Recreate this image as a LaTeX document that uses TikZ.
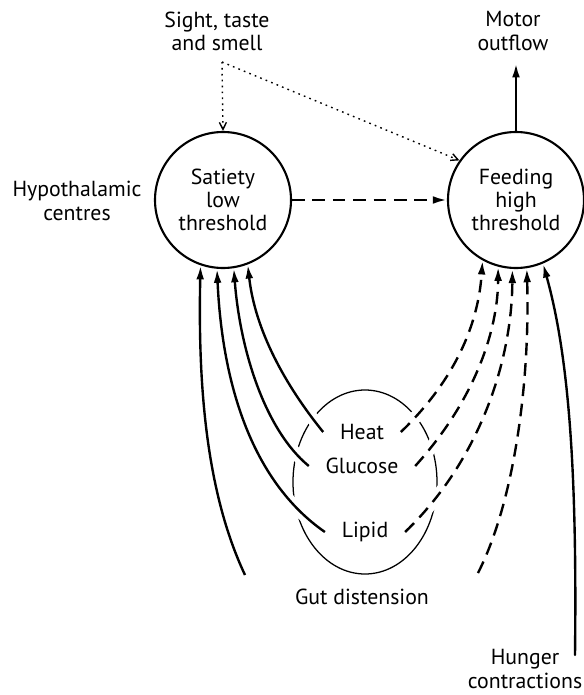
\documentclass[tikz,border=0pt]{standalone}
\usepackage{fontspec}
\setmainfont{PT Sans}
\usetikzlibrary{arrows.meta}

\begin{document}
\begin{tikzpicture}[x=0.25mm, y=-0.25mm,
			>={Latex[length=10pt,width=5.5pt]},   %Pfeilspitzen
			font=\fontsize{15.5}{16.5}\selectfont,
			centre/.style={draw, circle, line width=1.5pt, minimum size=3.4cm, align=center, inner sep=0pt},
			lbl/.style={align=center, inner sep=1pt},
			gutlbl/.style={inner sep=1pt, outer sep=11pt},
			fed/.style={->, line width=1.7pt},
			fedd/.style={->, line width=1.7pt, dash pattern=on 9pt off 5.5pt},
			sense/.style={-{Straight Barb[length=5pt,width=5pt]}, line width=1pt, dash pattern=on 1.2pt off 3pt},
			gap/.style={preaction={draw=white, line width=9pt, solid, -, shorten >=60pt}}]
			\useasboundingbox (0,0) rectangle (584,695);
			% Zentren
			\node[centre] (satiety) at (223,200) {Satiety\\low\\threshold};
			\node[centre] (feeding) at (516,200) {Feeding\\high\\threshold};
			\node[lbl] (hypo) at (77,201) {Hypothalamic\\centres};
			\node[lbl] (sight) at (217,31) {Sight, taste\\and smell};
			\node[lbl] (motor) at (513,31) {Motor\\outflow};
			% Sinne und Motorik
			\coordinate (sightpt) at (222,62);
			\draw[sense] (sightpt) -- (satiety.north);
			\draw[sense] (sightpt) -- (feeding.145);
			\draw[fedd] (satiety.east) -- (feeding.west);
			\draw[fed, shorten >=8pt] (feeding.north) -- (feeding.north |- motor.south);
			% Darm
			\draw[line width=0.9pt] (365,482) ellipse [x radius=72, y radius=92];
			\node[gutlbl] (heat) at (362,432) {Heat};
			\node[gutlbl] (glucose) at (362,466) {Glucose};
			\node[gutlbl] (lipid) at (365,532) {Lipid};
			\node[lbl] (gut) at (362,597) {Gut distension};
			\node[lbl] (hunger) at (525,669) {Hunger\\contractions};
			\coordinate (gutL) at (245,575);
			\coordinate (gutR) at (478,573);
			\coordinate (hungerEnd) at (575,655);
			% Signale zur Sättigung
			\draw[fed] (gutL) .. controls (205,490) and (198,380) .. (satiety.251);
			\draw[fed,gap] (lipid.west) .. controls (250,480) and (222,380) .. (satiety.265);
			\draw[fed,gap] (glucose.west) .. controls (265,430) and (240,350) .. (satiety.279);
			\draw[fed,gap] (heat.west) .. controls (285,385) and (255,330) .. (satiety.291);
			% Signale zum Fressen
			\draw[fedd,gap] (heat.east) .. controls (450,385) and (478,330) .. (feeding.241);
			\draw[fedd,gap] (glucose.east) .. controls (475,400) and (498,330) .. (feeding.255);
			\draw[fedd,gap] (lipid.east) .. controls (480,460) and (512,360) .. (feeding.267);
			\draw[fedd] (gutR) .. controls (515,500) and (530,380) .. (feeding.279);
			\draw[fed, line cap=round] (hungerEnd) .. controls (577,480) and (570,360) .. (feeding.293);
		\end{tikzpicture}
\end{document}
